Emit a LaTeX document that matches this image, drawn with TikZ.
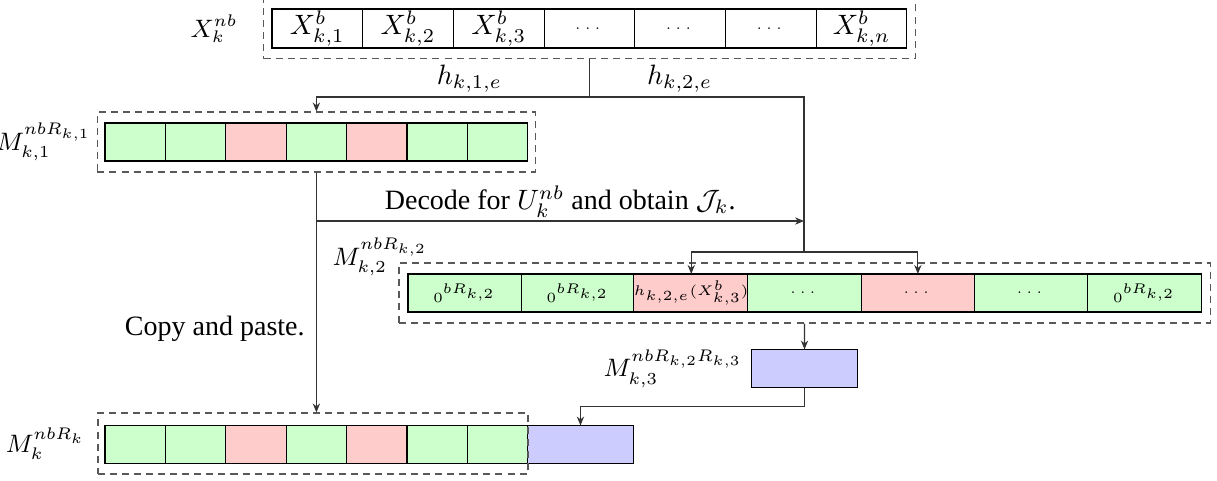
\documentclass[tikz,border=0pt]{standalone}
\usepackage[no-math]{fontspec}
\setmainfont{Liberation Serif}
\usepackage{amsmath, amssymb}
\usetikzlibrary{arrows.meta, positioning, fit}
\definecolor{bitgreen}{RGB}{204, 255, 204}
\definecolor{bitred}{RGB}{255, 204, 204}
\definecolor{bitblue}{RGB}{204, 204, 255}

\begin{document}
\begin{tikzpicture}[x=0.357pt, y=-0.357pt,
  cell/.style={draw, inner sep=0pt, outer sep=0pt, minimum height=13.6pt},
  xcell/.style={cell, minimum width=32.4pt, minimum height=13.9pt},
  mcell/.style={cell, minimum width=21.56pt},
  wcell/.style={cell, minimum width=40.45pt, font=\tiny},
  pcell/.style={cell, fill=bitblue, minimum width=37.6pt},
  dashbox/.style={draw=black!65, dashed, dash pattern=on 2.5pt off 1.8pt, inner xsep=2.9pt, inner ysep=3.9pt},
  lab/.style={inner sep=1pt, font=\fontsize{9}{11}\selectfont},
  wire/.style={draw=black!80},
  arr/.style={wire, -{Stealth[length=3.2pt, width=2.6pt]}}]
  \useasboundingbox (0,0) rectangle (1217,480);

  % Input blocks
  \foreach \i/\txt in {1/{$X^b_{k,1}$}, 2/{$X^b_{k,2}$}, 3/{$X^b_{k,3}$}, 4/{\tiny$\dots$}, 5/{\tiny$\dots$}, 6/{\tiny$\dots$}, 7/{$X^b_{k,n}$}}
    \node[xcell] (x\i) at (272+90.7*\i-45.35, 28.5) {\txt};
  \node[dashbox, fit=(x1)(x7)] (xbox) {};
  \node[lab, left=8pt of xbox] (xlab) {$X_k^{nb}$};

  % First layer
  \foreach \i/\col in {1/bitgreen, 2/bitgreen, 3/bitred, 4/bitgreen, 5/bitred, 6/bitgreen, 7/bitgreen}
    \node[mcell, fill=\col] (a\i) at (105+60.4*\i-30.2, 142) {};
  \node[dashbox, inner xsep=2.7pt, fit=(a1)(a7)] (abox) {};
  \node[lab, left=0.8pt of abox] (alab) {$M_{k,1}^{nbR_{k,1}}$};

  % Second layer
  \foreach \i/\txt/\col in {1/{$0^{bR_{k,2}}$}/bitgreen, 2/{$0^{bR_{k,2}}$}/bitgreen, 3/{$h_{k,2,e}(X^b_{k,3})$}/bitred, 4/{$\dots$}/bitgreen, 5/{$\dots$}/bitred, 6/{$\dots$}/bitgreen, 7/{$0^{bR_{k,2}}$}/bitgreen}
    \node[wcell, fill=\col] (w\i) at (408+113.3*\i-56.65, 293) {\txt};
  \node[dashbox, inner xsep=3.2pt, fit=(w1)(w7)] (wbox) {};
  \node[lab] (wlab) at (380, 257) {$M_{k,2}^{nbR_{k,2}}$};

  % Third layer
  \node[pcell] (p) at (804.5, 368.5) {};
  \node[lab, left=2.2pt of p] (plab) {$M_{k,3}^{nbR_{k,2}R_{k,3}}$};

  % Output
  \foreach \i/\col in {1/bitgreen, 2/bitgreen, 3/bitred, 4/bitgreen, 5/bitred, 6/bitgreen, 7/bitgreen}
    \node[mcell, fill=\col] (b\i) at (105+60.4*\i-30.2, 444.5) {};
  \node[pcell, right=0pt of b7] (b8) {};
  \node[dashbox, inner sep=0pt, fit={(98,413) (528,474)}] (mbox) {};
  \node[lab, left=3.3pt of mbox] (mlab) {$M_k^{nbR_k}$};

  % Connectors
  \coordinate (split) at (xbox.south |- 0,97);
  \coordinate (hub) at (804, 252);
  \coordinate (dec) at (804, 221);
  \draw[wire] (xbox.south) -- (split);
  \draw[arr] (split) -| (abox.north) node[pos=0.22, above, inner sep=1.5pt] (h1) {$h_{k,1,e}$};
  \draw[wire] (split) -| (hub) node[pos=0.21, above, inner sep=1.5pt] (h2) {$h_{k,2,e}$};
  \draw[arr] (abox.south |- dec) -- (dec)
    node[midway, above, inner sep=1pt] (dtxt) {Decode for $U_k^{nb}$ and obtain $\mathcal{J}_k$.};
  \draw[arr] (abox.south) -- (abox.south |- mbox.north)
    node[pos=0.65, left, inner sep=4pt] (ctxt) {Copy and paste.};
  \draw[arr] (hub) -| (w3.north);
  \draw[arr] (hub) -| (w5.north);
  \draw[arr] (wbox.south) -- (p.north);
  \draw[arr] (p.south) -- ++(0,19) -| (b8.north);
\end{tikzpicture}
\end{document}
